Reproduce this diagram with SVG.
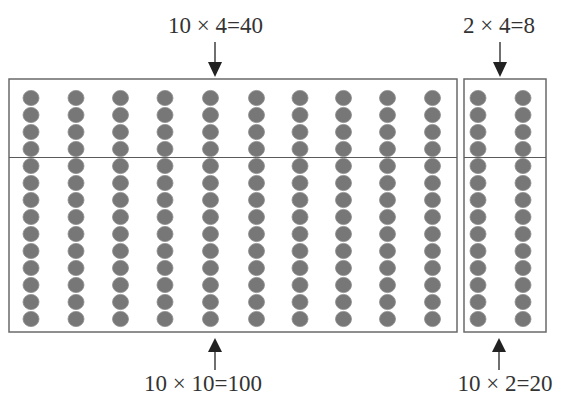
<svg xmlns="http://www.w3.org/2000/svg" width="561" height="398" viewBox="0 0 561 398">
<style>
.box{fill:none;stroke:#6a6a6a;stroke-width:1.5}
.div{stroke:#5a5a5a;stroke-width:1.2}
.dot{fill:#777;stroke:#8e8e8e;stroke-width:0.8}
.lbl{font-family:"Liberation Serif","Times New Roman",serif;font-size:23px;fill:#333}
.arr{stroke:#333;stroke-width:1.4;fill:none}
.head{fill:#222}
</style>
<defs>
<g id="col">
<ellipse class="dot" cx="0" cy="98" rx="8" ry="7.6"/>
<ellipse class="dot" cx="0" cy="115" rx="8" ry="7.6"/>
<ellipse class="dot" cx="0" cy="132" rx="8" ry="7.6"/>
<ellipse class="dot" cx="0" cy="149" rx="8" ry="7.6"/>
<ellipse class="dot" cx="0" cy="166" rx="8" ry="7.6"/>
<ellipse class="dot" cx="0" cy="183" rx="8" ry="7.6"/>
<ellipse class="dot" cx="0" cy="200" rx="8" ry="7.6"/>
<ellipse class="dot" cx="0" cy="217" rx="8" ry="7.6"/>
<ellipse class="dot" cx="0" cy="234" rx="8" ry="7.6"/>
<ellipse class="dot" cx="0" cy="251" rx="8" ry="7.6"/>
<ellipse class="dot" cx="0" cy="268" rx="8" ry="7.6"/>
<ellipse class="dot" cx="0" cy="285" rx="8" ry="7.6"/>
<ellipse class="dot" cx="0" cy="302" rx="8" ry="7.6"/>
<ellipse class="dot" cx="0" cy="319" rx="8" ry="7.6"/>
</g>
</defs>
<rect width="561" height="398" fill="#fff"/>
<g id="left-block">
<rect class="box" x="9" y="79" width="448" height="253"/>
<line class="div" x1="9" y1="157.5" x2="457" y2="157.5"/>
<use href="#col" x="31"/>
<use href="#col" x="76"/>
<use href="#col" x="120.5"/>
<use href="#col" x="165"/>
<use href="#col" x="210.5"/>
<use href="#col" x="256.5"/>
<use href="#col" x="300"/>
<use href="#col" x="343.5"/>
<use href="#col" x="387.5"/>
<use href="#col" x="432.5"/>
</g>
<g id="right-block">
<rect class="box" x="464" y="79" width="82" height="253"/>
<line class="div" x1="464" y1="157.5" x2="546" y2="157.5"/>
<use href="#col" x="478"/>
<use href="#col" x="523"/>
</g>
<g id="labels">
<text class="lbl" x="215.5" y="33" text-anchor="middle">10 × 4=40</text>
<text class="lbl" x="499" y="33" text-anchor="middle">2 × 4=8</text>
<text class="lbl" x="203" y="391" text-anchor="middle">10 × 10=100</text>
<text class="lbl" x="505" y="391" text-anchor="middle">10 × 2=20</text>
</g>
<g id="connectors">
<line class="arr" x1="215" y1="42" x2="215" y2="64"/>
<polygon class="head" points="208,62 222,62 215,77"/>
<line class="arr" x1="500" y1="42" x2="500" y2="64"/>
<polygon class="head" points="493,62 507,62 500,77"/>
<line class="arr" x1="215" y1="350" x2="215" y2="370"/>
<polygon class="head" points="208,352 222,352 215,338"/>
<line class="arr" x1="499" y1="350" x2="499" y2="370"/>
<polygon class="head" points="492,352 506,352 499,338"/>
</g>
</svg>
